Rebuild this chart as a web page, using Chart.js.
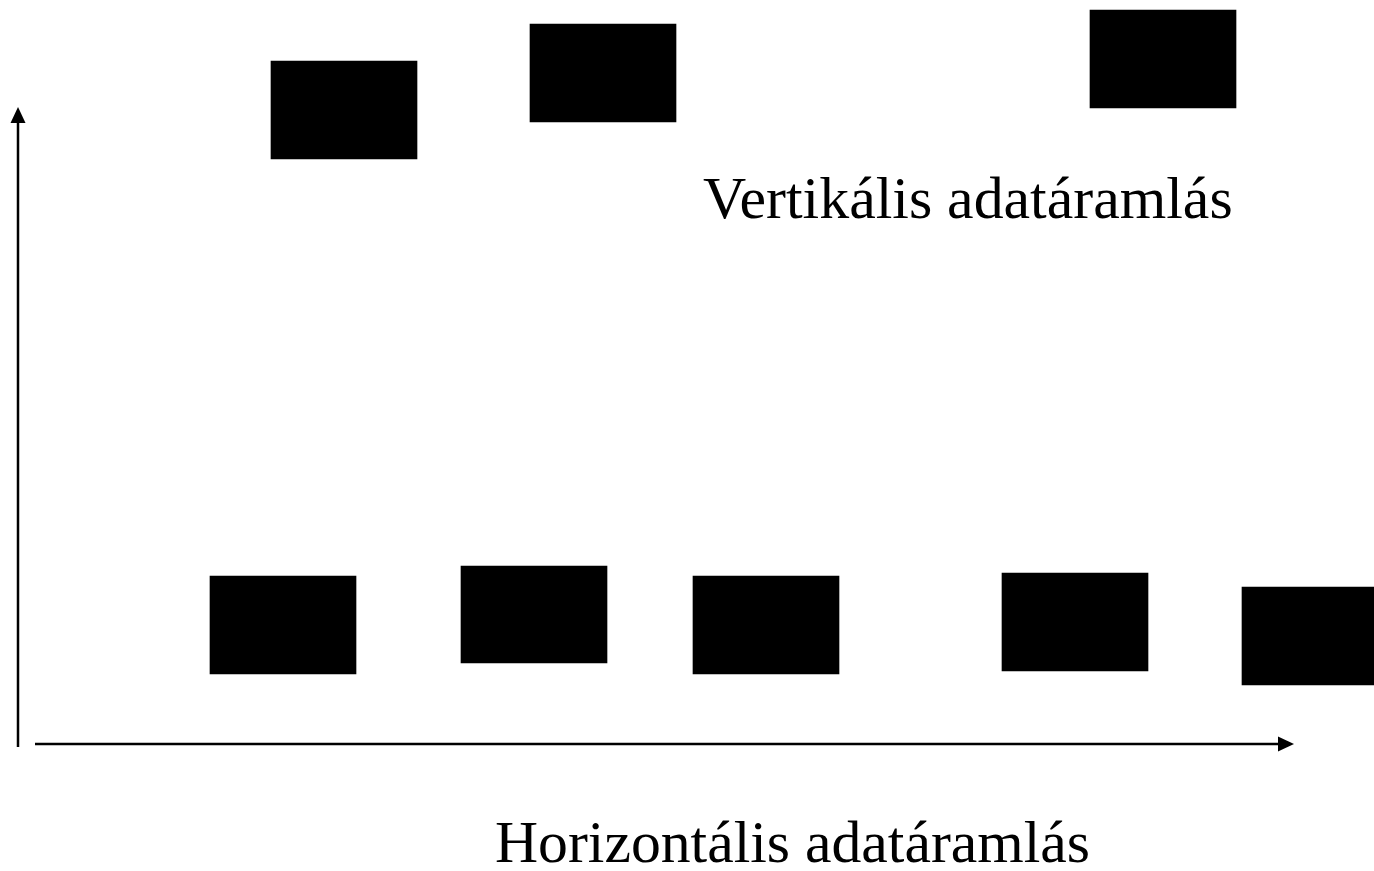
<!DOCTYPE html>
<html>
<head>
<meta charset="utf-8">
<script src="https://cdn.jsdelivr.net/npm/chart.js@4"></script>
<style>
  html, body { margin: 0; padding: 0; background: #fff; }
  #wrap { width: 1374px; height: 871px; position: relative; }
</style>
</head>
<body>
<div id="wrap"><canvas id="myChart"></canvas></div>
<script>
// blocks: centre x, top, bottom (diagram units, y grows downward)
const blockX = [344, 603, 1163, 283, 534, 766, 1075, 1315];
const blockTop = [61, 24, 10, 576, 566, 576, 573, 587];
const blockBottom = [159, 122, 108, 674, 663, 674, 671, 685];

// arrows: start and end points
const arrowFromX = [18, 35];
const arrowFromY = [747, 744];
const arrowToX = [18, 1294];
const arrowToY = [107, 744];

const labels = ['Vertikális adatáramlás', 'Horizontális adatáramlás'];
const labelX = [703, 495];
const labelY = [218, 862];
const labelWidth = [530, 595];

const blocks = blockX.map(function (x, i) {
  return { x: x, y: [blockTop[i], blockBottom[i]] };
});

const diagramPlugin = {
  id: 'diagram',
  afterDatasetsDraw(chart) {
    const ctx = chart.ctx;
    const xs = chart.scales.x;
    const ys = chart.scales.y;
    ctx.save();
    ctx.strokeStyle = '#000';
    ctx.fillStyle = '#000';
    ctx.lineWidth = 2.5;
    for (let i = 0; i < arrowFromX.length; i++) {
      const x1 = xs.getPixelForValue(arrowFromX[i]);
      const y1 = ys.getPixelForValue(arrowFromY[i]);
      const x2 = xs.getPixelForValue(arrowToX[i]);
      const y2 = ys.getPixelForValue(arrowToY[i]);
      const ang = Math.atan2(y2 - y1, x2 - x1);
      const len = 16, half = 7.5;
      const bx = x2 - Math.cos(ang) * len;
      const by = y2 - Math.sin(ang) * len;
      ctx.beginPath();
      ctx.moveTo(x1, y1);
      ctx.lineTo(bx, by);
      ctx.stroke();
      ctx.beginPath();
      ctx.moveTo(x2, y2);
      ctx.lineTo(bx - Math.sin(ang) * half, by + Math.cos(ang) * half);
      ctx.lineTo(bx + Math.sin(ang) * half, by - Math.cos(ang) * half);
      ctx.closePath();
      ctx.fill();
    }
    ctx.textBaseline = 'alphabetic';
    ctx.textAlign = 'left';
    for (let i = 0; i < labels.length; i++) {
      ctx.font = '100px "Liberation Serif", "DejaVu Serif", serif';
      const w = ctx.measureText(labels[i]).width;
      const size = 100 * labelWidth[i] / w;
      ctx.font = size.toFixed(1) + 'px "Liberation Serif", "DejaVu Serif", serif';
      ctx.fillText(labels[i], xs.getPixelForValue(labelX[i]), ys.getPixelForValue(labelY[i]));
    }
    ctx.restore();
  }
};

const config = {
  type: 'bar',
  data: {
    datasets: [{
      data: blocks,
      backgroundColor: '#000',
      borderWidth: 0,
      barThickness: 146
    }]
  },
  options: {
    responsive: true,
    maintainAspectRatio: false,
    animation: false,
    layout: { padding: 0 },
    plugins: { legend: { display: false }, tooltip: { enabled: false } },
    scales: {
      x: { type: 'linear', min: 0, max: 1374, offset: false, display: false },
      y: { type: 'linear', min: 0, max: 871, reverse: true, display: false }
    }
  },
  plugins: [diagramPlugin]
};

const myChart = new Chart(document.getElementById('myChart'), config);
</script>
</body>
</html>
